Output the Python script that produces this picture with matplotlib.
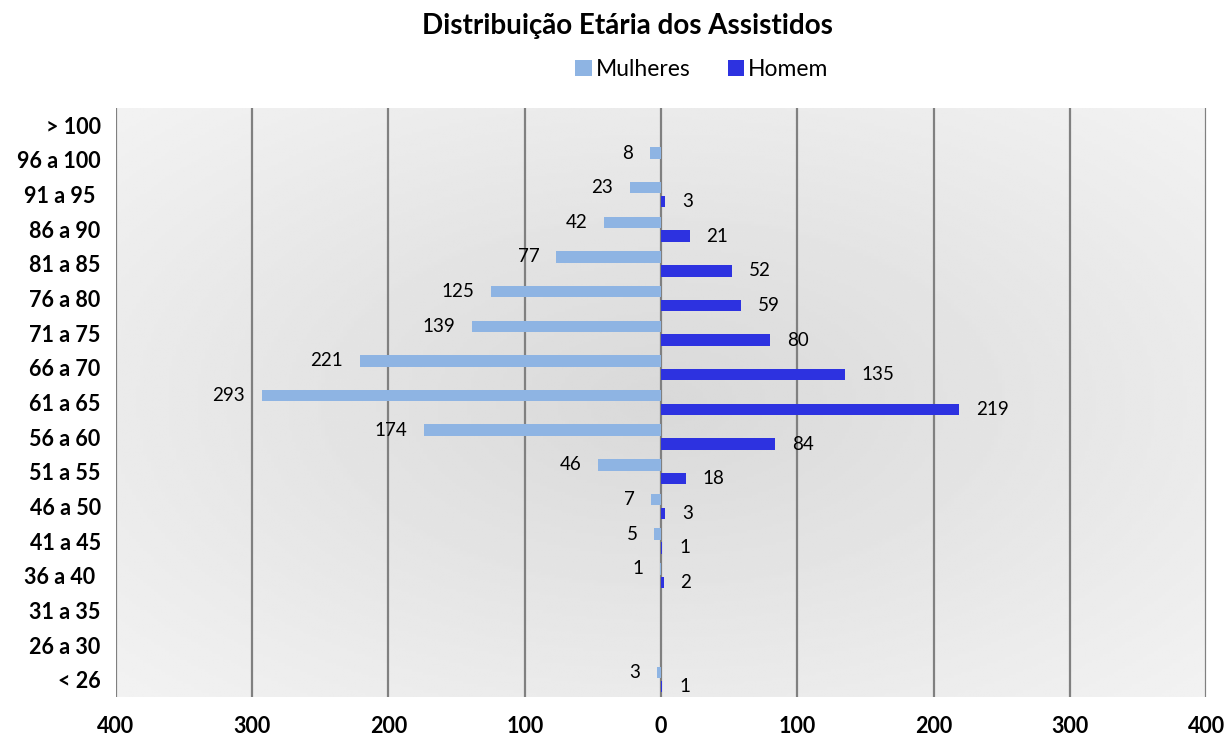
import numpy as np
import matplotlib
matplotlib.use("Agg")
import matplotlib.pyplot as plt
from matplotlib.ticker import FuncFormatter

faixas = ["< 26", "26 a 30", "31 a 35", "36 a 40 ", "41 a 45", "46 a 50", "51 a 55",
          "56 a 60", "61 a 65", "66 a 70", "71 a 75", "76 a 80", "81 a 85",
          "86 a 90", "91 a 95 ", "96 a 100", "> 100"]
mulheres = [3, 0, 0, 1, 5, 7, 46, 174, 293, 221, 139, 125, 77, 42, 23, 8, 0]
homem = [1, 0, 0, 2, 1, 3, 18, 84, 219, 135, 80, 59, 52, 21, 3, 0, 0]
xticks = [-400, -300, -200, -100, 0, 100, 200, 300, 400]

cor_m = "#8EB4E3"
cor_h = "#2D32E0"

plt.rcParams['font.family'] = ['Lato', 'DejaVu Sans']

fig = plt.figure(figsize=(12.26, 7.37), dpi=100)
ax = fig.add_axes([0.0946, 0.0543, 0.8891, 0.7992])

# fundo com gradiente radial (cinza, mais escuro no centro)
gx, gy = np.meshgrid(np.linspace(-1, 1, 300), np.linspace(-1, 1, 200))
r = np.sqrt(gx**2 + gy**2) / np.sqrt(2)
ax.imshow(0.85 + 0.10 * r, extent=[-400, 400, -0.5, 16.5], aspect='auto', cmap='gray',
          vmin=0, vmax=1, zorder=0, origin='lower')

y = np.arange(len(faixas))
h = 0.33
ax.barh(y + 0.2, [-v for v in mulheres], height=h, color=cor_m, label="Mulheres", zorder=2)
ax.barh(y - 0.2, homem, height=h, color=cor_h, label="Homem", zorder=2)

for i in range(len(faixas)):
    if mulheres[i] > 0:
        ax.annotate(str(mulheres[i]), (-mulheres[i], y[i] + 0.2), xytext=(-12, 0),
                    textcoords='offset points', ha='right', va='center', fontsize=13.5)
    if homem[i] > 0:
        ax.annotate(str(homem[i]), (homem[i], y[i] - 0.2), xytext=(12, 0),
                    textcoords='offset points', ha='left', va='center', fontsize=13.5)

ax.set_xlim(-400, 400)
ax.set_ylim(-0.5, 16.5)
ax.set_xticks(xticks)
ax.xaxis.set_major_formatter(FuncFormatter(lambda v, p: str(int(abs(v)))))
ax.set_yticks(y)
ax.set_yticklabels(faixas)
for t in ax.get_xticklabels() + ax.get_yticklabels():
    t.set_fontweight('bold')
    t.set_fontsize(15.5)
ax.tick_params(length=0)
ax.tick_params(axis='x', pad=14)
ax.tick_params(axis='y', pad=11)
ax.grid(axis='x', color='#808080', linewidth=1.6, zorder=1)
for s in ax.spines.values():
    s.set_visible(False)

fig.text(0.512, 0.965, "Distribuição Etária dos Assistidos", ha='center', va='center',
         fontsize=20, fontweight='bold')
ax.legend(loc='center', bbox_to_anchor=(0.5376, 1.0645), ncol=2, frameon=False,
          fontsize=16.5, handlelength=0.7, handleheight=0.7, handletextpad=0.2,
          columnspacing=1.6, borderaxespad=0)

plt.savefig("out.png")
